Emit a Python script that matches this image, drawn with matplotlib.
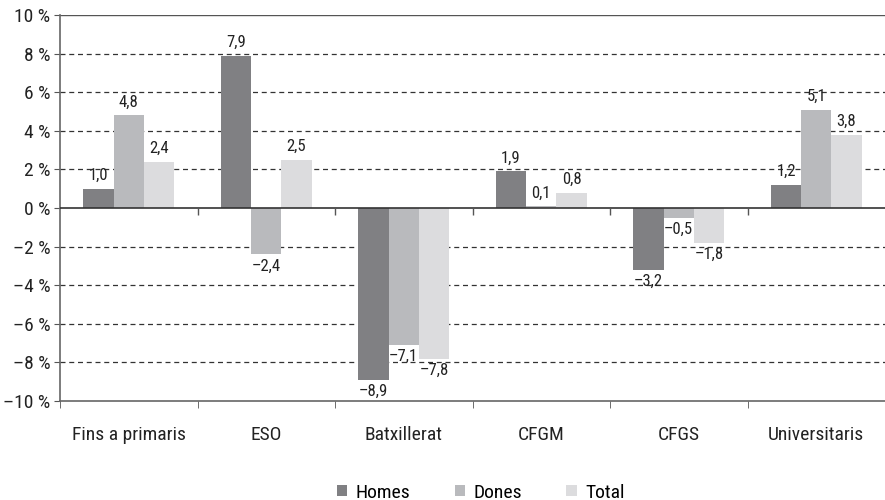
import matplotlib
matplotlib.use("Agg")
import matplotlib.pyplot as plt
from matplotlib import font_manager
import numpy as np

categories = ["Fins a primaris", "ESO", "Batxillerat", "CFGM", "CFGS", "Universitaris"]
series_names = ["Homes", "Dones", "Total"]
homes = [1.0, 7.9, -8.9, 1.9, -3.2, 1.2]
dones = [4.8, -2.4, -7.1, 0.1, -0.5, 5.1]
total = [2.4, 2.5, -7.8, 0.8, -1.8, 3.8]
yticks = [-10, -8, -6, -4, -2, 0, 2, 4, 6, 8, 10]

colors = ["#808083", "#b9babd", "#dcdcde"]

# pick a condensed font if one is available
cands = []
for f in font_manager.fontManager.ttflist:
    nm = f.name.lower()
    fn = f.fname.lower()
    if ("narrow" in nm or "condensed" in nm or "condensed" in fn or "narrow" in fn) and "bold" not in fn and "oblique" not in fn and "italic" not in fn:
        cands.append(f)
pref = ["liberation sans narrow", "roboto condensed", "open sans condensed", "dejavu sans condensed", "dejavu sans"]
chosen = None
for p in pref:
    for f in cands:
        if f.name.lower() == p or p in f.fname.lower().replace("-", " ").replace("_", " "):
            chosen = f
            break
    if chosen:
        break
if chosen is None and cands:
    chosen = cands[0]
if chosen is not None:
    fp = font_manager.FontProperties(fname=chosen.fname)
else:
    fp = font_manager.FontProperties(family="DejaVu Sans")

def F(size):
    p = fp.copy()
    p.set_size(size)
    return p

fig = plt.figure(figsize=(8.85, 5.0), dpi=100)
ax = fig.add_axes([60/885, 1-401/500, 1-60/885, (401-15)/500])

x = np.arange(len(categories))
w = 0.22
data = [homes, dones, total]
for i, (vals, name, c) in enumerate(zip(data, series_names, colors)):
    pos = x + (i - 1) * w
    ax.bar(pos, vals, width=w, color=c, label=name, zorder=3)
    for xp, v in zip(pos, vals):
        txt = f"{v:.1f}".replace(".", ",").replace("-", "\u2013")
        if v >= 0:
            ax.annotate(txt, (xp, v), xytext=(0, 4), textcoords="offset points",
                        ha="center", va="bottom", fontproperties=F(12), color="#222222", zorder=4)
        else:
            ax.annotate(txt, (xp, v), xytext=(0, -3), textcoords="offset points",
                        ha="center", va="top", fontproperties=F(12), color="#222222", zorder=4)

ax.set_xlim(-0.5, len(categories) - 0.5)
ax.set_ylim(-10, 10)
ax.set_yticks(yticks)
ax.set_yticklabels([f"{t} %".replace("-", "\u2013") for t in yticks], fontproperties=F(14), color="#222222")
for t in yticks:
    if t in (-10, 0, 10):
        continue
    ax.axhline(t, color="#333333", lw=0.9, ls=(0, (4, 3)), zorder=1)
ax.axhline(0, color="#333333", lw=1.2, zorder=5)
ax.axhline(10, color="#555555", lw=1.0, zorder=1)

ax.set_xticks(x)
ax.set_xticklabels(categories, fontproperties=F(14), color="#222222")
ax.tick_params(axis="x", length=0, pad=18)
ax.set_xticks(np.arange(len(categories) + 1) - 0.5, minor=True)
ax.tick_params(axis="x", which="minor", length=5, direction="out", color="#555555")
ax.tick_params(axis="y", length=4, direction="out", color="#555555", pad=3)
ax.vlines(np.arange(1, len(categories)) - 0.5, -0.35, 0, color="#555555", lw=1.0, zorder=5)

for s in ["top", "right"]:
    ax.spines[s].set_visible(False)
ax.spines["left"].set_color("#666666")
ax.spines["bottom"].set_color("#666666")
ax.spines["left"].set_linewidth(1.2)
ax.spines["bottom"].set_linewidth(1.2)

fig.legend(loc="lower center", ncol=3, frameon=False, prop=F(14),
           handlelength=0.55, handleheight=0.55, handletextpad=0.4,
           columnspacing=2.3, bbox_to_anchor=(0.543, -0.038))

fig.savefig("out.png", dpi=100)
